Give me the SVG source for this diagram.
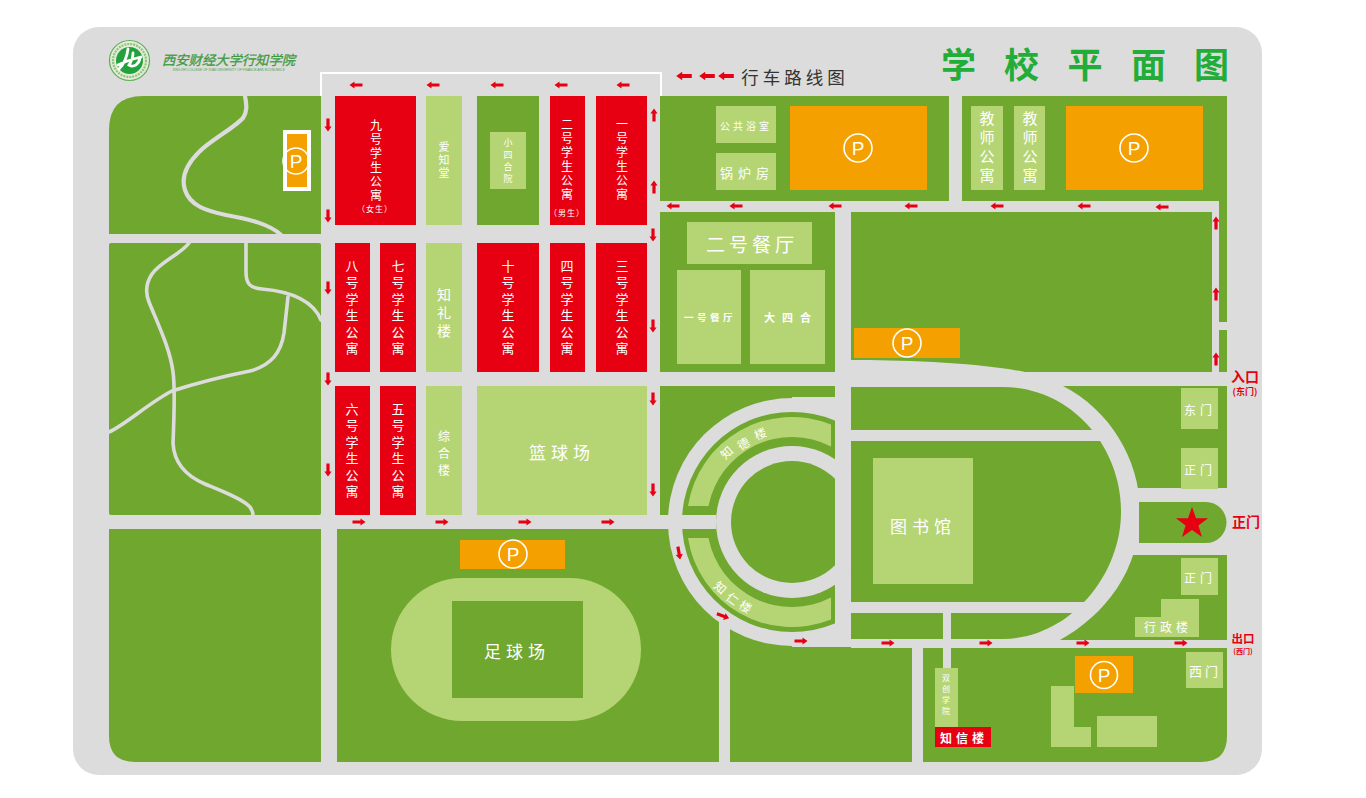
<svg xmlns="http://www.w3.org/2000/svg" xmlns:xlink="http://www.w3.org/1999/xlink" width="1366" height="798" viewBox="0 0 1366 798">
<style>
.g{fill:#70a72f}.l{fill:#b5d575}.r{fill:#e60012}.o{fill:#f3a000}.w{fill:#dcdcdc}
.pk{fill:none;stroke:#dcdcdc;stroke-width:3.6;stroke-linecap:round;stroke-linejoin:round}
text{font-family:"Noto Sans CJK SC","Noto Sans",sans-serif;fill:#fff;text-anchor:middle;dominant-baseline:central}
.v{writing-mode:vertical-rl;glyph-orientation-vertical:0}
.pc{fill:none;stroke:#fff;stroke-width:1.6}
.pt{font-family:"Liberation Sans",sans-serif;font-size:19px}
.lab{fill:#e60012;font-weight:700}
</style>
<defs>
<path id="a" class="r" d="M-6.5 0L-1.5-3.6V-1.6H6.5V1.6H-1.5V3.6Z"/>
<clipPath id="cl"><rect x="600" y="380" width="235" height="290"/></clipPath>
</defs>
<rect width="1366" height="798" fill="#fff"/>
<rect class="w" x="73" y="27" width="1189" height="748" rx="26"/>

<g id="logo">
<circle cx="129.500" cy="60.500" r="20" fill="#e4ecd8" stroke="#5fae5a" stroke-width="1.200"/>
<circle cx="129.500" cy="60.500" r="16.500" fill="none" stroke="#8cc57f" stroke-width="2.200" stroke-dasharray="2 1"/>
<circle cx="129.500" cy="60.500" r="13.500" fill="#22a23c"/>
<path d="M118 65C124 62 129 60 141 57M128 49C127 57 124 64 119 69M133 53C133 58 131 62 129 65C134 68 139 64 140 58" fill="none" stroke="#fff" stroke-width="2.800" stroke-linecap="round"/>
<text x="228.500" y="59" font-size="13.300" font-style="italic" style="fill:#3f9a3f;stroke:#3f9a3f;stroke-width:.3px">西安财经大学行知学院</text>
<text x="228.500" y="69.500" font-size="3.200" style="font-family:'Liberation Sans',sans-serif;fill:#4aa34a">XING ZHI COLLEGE OF XI'AN UNIVERSITY OF FINANCE AND ECONOMICS</text>
</g>

<g id="title">
<text x="958.500 1021.500 1085 1148.500 1211.500" y="62" font-size="35" font-weight="700" style="fill:#22ac38">学校平面图</text>
</g>

<g id="grounds">
<path class="g" d="M109 234V130Q109 96 143 96H321V234Z"/>
<rect class="g" x="109" y="243" width="212" height="272" rx="2"/>
<path class="g" d="M109 529H321V762H135Q109 762 109 736Z"/>
<rect class="g" x="477" y="96" width="62" height="129"/>
<rect class="g" x="660" y="96" width="289" height="105"/>
<path class="g" d="M962 96H1227V322H1219V201H962Z"/>
<rect class="g" x="1219" y="330" width="8" height="42"/>
<rect class="g" x="660" y="212" width="175" height="160"/>
<path class="g" d="M851 212H1212V372H1025C975 362 900 360 851 360Z"/>
<rect class="g" x="660" y="386" width="175" height="129"/>
<rect class="g" x="337" y="529" width="382" height="233"/>
<path class="g" d="M730 629H792V647H912V762H730Z"/>
<path class="g" d="M923 648H1227V736Q1227 762 1201 762H923Z"/>
<rect class="g" x="1040" y="386" width="187" height="102"/>
<rect class="g" x="1040" y="555" width="187" height="85"/>
</g>

<g id="park-paths">
<path class="pk" d="M245 96C247 106 247 112 243 118C233 129 212 139 199 152C186 165 181 178 185 190C190 206 207 211 226 215C248 219 270 224 281 235" style="stroke-width:4.200"/>
<path class="pk" d="M189 243C181 254 160 262 152 274C146 283 145 292 149 302C157 322 170 348 173 372C175 386 174 420 173 443C174 462 186 476 205 484C222 491 243 499 250 507C252 510 253 513 253 515"/>
<path class="pk" d="M109 432C125 425 150 402 172 391C200 382 225 376 250 371C272 365 281 352 284 333L288 297"/>
<path class="pk" d="M246 243V272C246 284 250 288 262 289C285 291 312 298 321 320"/>
</g>

<g id="ring-roads">
<circle class="w" cx="792" cy="522" r="124"/>
<rect class="w" x="792" y="397" width="43" height="250"/>
<rect class="w" x="719" y="620" width="11" height="142"/>
<circle class="g" cx="792" cy="522" r="110" clip-path="url(#cl)"/>
<circle class="w" cx="792" cy="522" r="76"/>
<circle class="g" cx="792" cy="522" r="61" clip-path="url(#cl)"/>
<rect class="w" x="660" y="515" width="56" height="14"/>
</g>

<g id="east-roads">
<path class="w" d="M851 386H1063C1110 410 1140 460 1140 512C1140 570 1105 615 1060 640H851Z"/>
<path class="g" d="M851 387H1003C1070 387 1121 445 1121 512C1121 575 1070 638 1003 639H851Z"/>
<rect class="w" x="851" y="430" width="255" height="11"/>
<rect class="w" x="851" y="602" width="245" height="11"/>
<rect class="w" x="943" y="612" width="8" height="60"/>
<rect class="w" x="851" y="640" width="376" height="8"/>
<path class="g" d="M1139 502H1206A20.500 20.500 0 0 1 1206 543H1139Z"/>
<path class="r" d="M1192 507L1196 518.200H1208L1198.400 525.400L1202 537L1192 530L1182 537L1185.600 525.400L1176 518.200H1188Z"/>
</g>

<path id="route-line" d="M321 96V73H661V96" fill="none" stroke="#fff" stroke-width="2"/>

<g id="dorm-9"><rect class="r" x="335" y="96" width="81" height="129"/><text class="v" x="376" y="161" font-size="12" letter-spacing="2">九号学生公寓</text><text x="375" y="208" font-size="8" letter-spacing="1">（女生）</text></g>
<g id="aizhitang"><rect class="l" x="426" y="96" width="36" height="129"/><text class="v" x="444" y="161" font-size="11" letter-spacing="2">爱知堂</text></g>
<g id="xiaosiheyuan"><rect class="l" x="490" y="132" width="36" height="57"/><text class="v" x="508" y="162" font-size="9" letter-spacing="3">小四合院</text></g>
<g id="dorm-2"><rect class="r" x="550" y="96" width="35" height="129"/><text class="v" x="567" y="160" font-size="12" letter-spacing="2">二号学生公寓</text><text x="567" y="212" font-size="8" letter-spacing="1">（男生）</text></g>
<g id="dorm-1"><rect class="r" x="596" y="96" width="51" height="129"/><text class="v" x="622" y="160" font-size="12" letter-spacing="2">一号学生公寓</text></g>

<g id="dorm-8"><rect class="r" x="335" y="243" width="35" height="129"/><text class="v" x="352" y="309" font-size="13" letter-spacing="3.500">八号学生公寓</text></g>
<g id="dorm-7"><rect class="r" x="380" y="243" width="36" height="129"/><text class="v" x="398" y="309" font-size="13" letter-spacing="3.500">七号学生公寓</text></g>
<g id="zhili"><rect class="l" x="426" y="243" width="36" height="129"/><text class="v" x="444" y="315" font-size="14" letter-spacing="4">知礼楼</text></g>
<g id="dorm-10"><rect class="r" x="477" y="243" width="62" height="129"/><text class="v" x="508" y="309" font-size="13" letter-spacing="3.500">十号学生公寓</text></g>
<g id="dorm-4"><rect class="r" x="550" y="243" width="35" height="129"/><text class="v" x="567" y="309" font-size="13" letter-spacing="3.500">四号学生公寓</text></g>
<g id="dorm-3"><rect class="r" x="596" y="243" width="51" height="129"/><text class="v" x="622" y="309" font-size="13" letter-spacing="3.500">三号学生公寓</text></g>

<g id="dorm-6"><rect class="r" x="335" y="386" width="35" height="129"/><text class="v" x="352" y="452" font-size="13" letter-spacing="3.500">六号学生公寓</text></g>
<g id="dorm-5"><rect class="r" x="380" y="386" width="36" height="129"/><text class="v" x="398" y="452" font-size="13" letter-spacing="3.500">五号学生公寓</text></g>
<g id="zonghe"><rect class="l" x="426" y="386" width="36" height="129"/><text class="v" x="444" y="456" font-size="12" letter-spacing="5">综合楼</text></g>
<g id="basketball"><rect class="l" x="477" y="386" width="170" height="129"/><text x="562" y="451" font-size="17" letter-spacing="5">篮球场</text></g>

<g id="bath"><rect class="l" x="716" y="106" width="60" height="37"/><text x="746" y="125" font-size="10" letter-spacing="3">公共浴室</text></g>
<g id="boiler"><rect class="l" x="716" y="153" width="60" height="37"/><text x="747" y="172" font-size="13" letter-spacing="5">锅炉房</text></g>
<g id="p1"><rect class="o" x="790" y="106" width="137" height="84"/><circle class="pc" cx="858" cy="148" r="14"/><text class="pt" x="858" y="148">P</text></g>
<g id="t1"><rect class="l" x="971" y="106" width="32" height="84"/><text class="v" x="987" y="149" font-size="15" letter-spacing="4">教师公寓</text></g>
<g id="t2"><rect class="l" x="1014" y="106" width="31" height="84"/><text class="v" x="1030" y="149" font-size="15" letter-spacing="4">教师公寓</text></g>
<g id="p2"><rect class="o" x="1066" y="106" width="137" height="84"/><circle class="pc" cx="1134" cy="148" r="14"/><text class="pt" x="1134" y="148">P</text></g>

<g id="canteen-2"><rect class="l" x="687" y="222" width="125" height="42"/><text x="752" y="243" font-size="19" letter-spacing="4">二号餐厅</text></g>
<g id="canteen-1"><rect class="l" x="677" y="270" width="64" height="94"/><text x="710" y="317" font-size="9.500" font-weight="700" letter-spacing="3.500">一号餐厅</text></g>
<g id="dasihe"><rect class="l" x="750" y="270" width="75" height="94"/><text x="791" y="317" font-size="11" font-weight="700" letter-spacing="7">大四合</text></g>
<g id="p3"><rect class="o" x="854" y="328" width="106" height="30"/><circle class="pc" cx="907" cy="343" r="14"/><text class="pt" x="907" y="343">P</text></g>
<g id="p4"><rect x="283" y="130" width="28" height="61" fill="#fff"/><rect class="o" x="287" y="134" width="20" height="53"/><circle class="pc" cx="296" cy="161" r="13"/><text class="pt" x="296" y="161">P</text></g>
<g id="p5"><rect class="o" x="460" y="540" width="105" height="29"/><circle class="pc" cx="513" cy="554" r="14"/><text class="pt" x="513" y="554">P</text></g>
<g id="p6"><rect class="o" x="1075" y="656" width="58" height="37"/><circle class="pc" cx="1104" cy="675" r="13.500"/><text class="pt" x="1104" y="675">P</text></g>

<g id="football"><rect class="l" x="391" y="578" width="250" height="143" rx="71.500"/><rect class="g" x="452" y="601" width="131" height="97"/><text x="517" y="650" font-size="17" letter-spacing="5">足球场</text></g>

<g id="zhide"><path class="l" d="M688 506A105 105 0 0 1 831 424.500V446.500A85 85 0 0 0 708.500 506Z"/>
<text transform="translate(726 452) rotate(-42)" font-size="12">知</text><text transform="translate(743 443) rotate(-30)" font-size="12">德</text><text transform="translate(760 433) rotate(-22)" font-size="12">楼</text></g>
<g id="zhiren"><path class="l" d="M688 538A105 105 0 0 0 831 619.500V597.500A85 85 0 0 1 708.500 538Z"/>
<text transform="translate(721 587) rotate(42)" font-size="12">知</text><text transform="translate(733 598) rotate(38)" font-size="12">仁</text><text transform="translate(746 606) rotate(32)" font-size="12">楼</text></g>

<g id="library"><rect class="l" x="873" y="458" width="100" height="126"/><text x="923" y="525" font-size="17" letter-spacing="5">图书馆</text></g>
<g id="east-gate"><rect class="l" x="1181" y="388" width="37" height="41"/><text x="1200" y="409" font-size="12" letter-spacing="4">东门</text></g>
<g id="main-gate-n"><rect class="l" x="1181" y="448" width="37" height="41"/><text x="1200" y="469" font-size="12" letter-spacing="4">正门</text></g>
<g id="main-gate-s"><rect class="l" x="1181" y="558" width="37" height="37"/><text x="1200" y="577" font-size="12" letter-spacing="4">正门</text></g>
<g id="admin"><path class="l" d="M1161 599H1199V637H1135V617H1161Z"/><text x="1168" y="626" font-size="12" letter-spacing="4">行政楼</text></g>
<g id="west-gate"><rect class="l" x="1186" y="652" width="37" height="36"/><text x="1205" y="670" font-size="13" letter-spacing="3">西门</text></g>
<g id="shuangchuang"><rect class="l" x="935" y="668" width="23" height="59"/><text class="v" x="946" y="696" font-size="8" letter-spacing="3">双创学院</text></g>
<g id="zhixin"><rect class="r" x="935" y="727" width="56" height="20"/><text x="964" y="737" font-size="12" font-weight="700" letter-spacing="4">知信楼</text></g>
<g id="bldg-l"><path class="l" d="M1051 686H1074V727H1091V747H1051Z"/></g>
<g id="bldg-r"><rect class="l" x="1097" y="716" width="60" height="31"/></g>

<g id="connectors">
<use href="#a" transform="translate(684 76) scale(1.200)"/><use href="#a" transform="translate(707 76) scale(1.200)"/><use href="#a" transform="translate(726 76) scale(1.200)"/>
<use href="#a" x="356" y="85"/><use href="#a" x="433" y="85"/><use href="#a" x="497" y="85"/><use href="#a" x="561" y="85"/><use href="#a" x="623" y="85"/>
<use href="#a" transform="translate(328 125) rotate(-90)"/><use href="#a" transform="translate(328 216) rotate(-90)"/><use href="#a" transform="translate(328 288) rotate(-90)"/><use href="#a" transform="translate(328 379) rotate(-90)"/><use href="#a" transform="translate(328 470) rotate(-90)"/>
<use href="#a" transform="translate(654 115) rotate(90)"/><use href="#a" transform="translate(654 187) rotate(90)"/>
<use href="#a" transform="translate(653 235) rotate(-90)"/><use href="#a" transform="translate(653 326) rotate(-90)"/><use href="#a" transform="translate(653 399) rotate(-90)"/><use href="#a" transform="translate(653 490) rotate(-90)"/>
<use href="#a" transform="translate(359 522) rotate(180)"/><use href="#a" transform="translate(442 522) rotate(180)"/><use href="#a" transform="translate(525 522) rotate(180)"/><use href="#a" transform="translate(608 522) rotate(180)"/>
<use href="#a" x="673" y="206"/><use href="#a" x="736" y="206"/><use href="#a" x="835" y="206"/><use href="#a" x="911" y="206"/><use href="#a" x="997" y="206"/><use href="#a" x="1084" y="206"/><use href="#a" x="1162" y="207"/>
<use href="#a" transform="translate(1216 223) rotate(90)"/><use href="#a" transform="translate(1216 294) rotate(90)"/><use href="#a" transform="translate(1216 359) rotate(90)"/>
<use href="#a" transform="translate(679 553) rotate(-100)"/><use href="#a" transform="translate(723 616) rotate(-160)"/>
<use href="#a" transform="translate(801 641) rotate(180)"/><use href="#a" transform="translate(888 643) rotate(180)"/><use href="#a" transform="translate(986 643) rotate(180)"/><use href="#a" transform="translate(1083 643) rotate(180)"/><use href="#a" transform="translate(1181 643) rotate(180)"/>
</g>

<g id="labels">
<text x="795" y="76" font-size="17.500" letter-spacing="4" style="fill:#333">行车路线图</text>
<text class="lab" x="1245" y="376" font-size="14">入口</text>
<text class="lab" x="1245" y="391" font-size="9">(东门)</text>
<text class="lab" x="1246" y="521" font-size="14">正门</text>
<text class="lab" x="1243" y="638" font-size="11.500">出口</text>
<text class="lab" x="1243" y="651" font-size="7">(西门)</text>
</g>
</svg>
